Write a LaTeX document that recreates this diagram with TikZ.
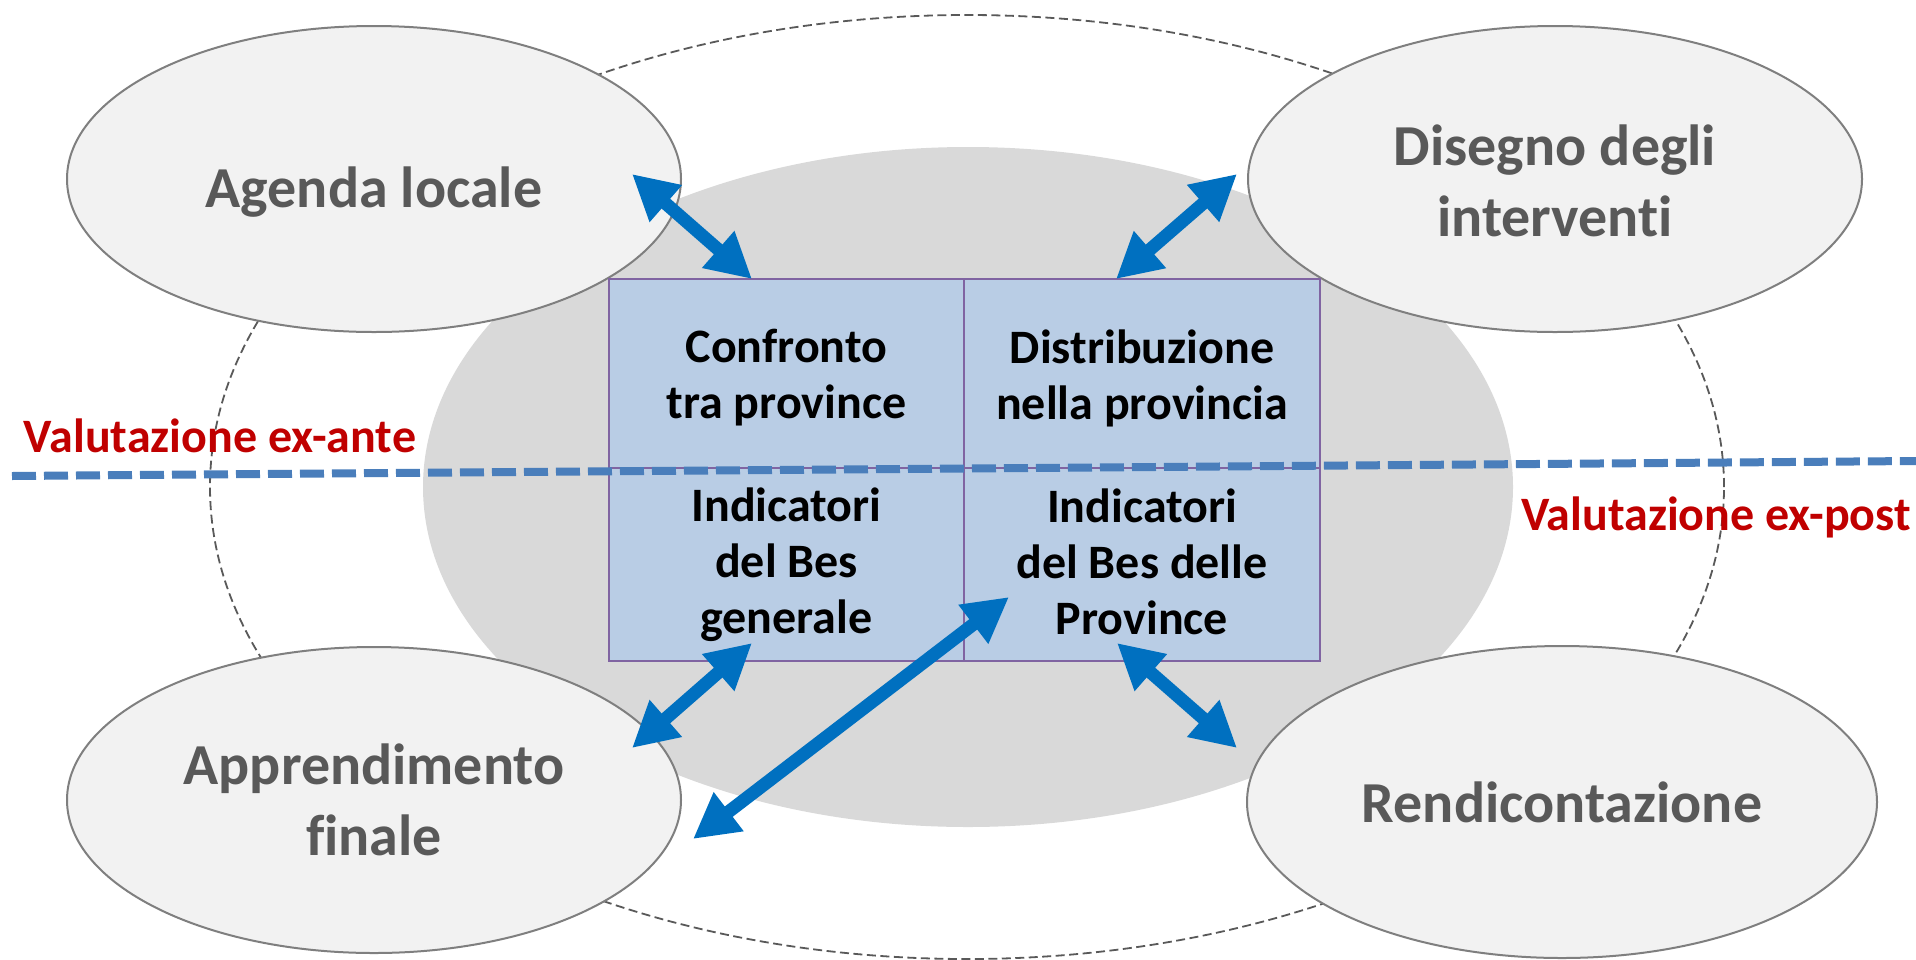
\documentclass[tikz,border=0pt]{standalone}
\usepackage{fontspec}
\setmainfont{Carlito}[Ligatures=NoCommon]
\usetikzlibrary{shapes.geometric,arrows.meta}
\definecolor{ellfill}{HTML}{F2F2F2}
\definecolor{ellline}{HTML}{7F7F7F}
\definecolor{corefill}{HTML}{D9D9D9}
\definecolor{cellfill}{HTML}{B9CDE5}
\definecolor{cellline}{HTML}{8064A2}
\definecolor{elltext}{HTML}{595959}
\definecolor{labred}{HTML}{C00000}
\definecolor{arrblue}{HTML}{0070C0}
\definecolor{lineblue}{HTML}{4A7EBB}
\definecolor{outerline}{HTML}{595959}
\tikzset{
  outerell/.style={ellipse, draw=outerline, line width=1.8pt, dash pattern=on 9pt off 4.5pt, minimum width=1514pt, minimum height=944pt, inner sep=0pt},
  coreell/.style={ellipse, fill=corefill, minimum width=1090pt, minimum height=680pt, inner sep=0pt},
  phaseell/.style={ellipse, fill=ellfill, draw=ellline, line width=2pt, minimum width=614pt, minimum height=306pt, inner sep=0pt},
  phasetext/.style={inner sep=0pt, align=center, text=elltext, font=\fontsize{58}{71}\selectfont\bfseries},
  cellbox/.style={rectangle, fill=cellfill, draw=cellline, line width=2.5pt, inner sep=0pt},
  celltext/.style={inner sep=0pt, align=center, font=\fontsize{48}{56}\selectfont\bfseries},
  phaselabel/.style={text=labred, font=\fontsize{48}{56}\selectfont\bfseries, anchor=base, inner sep=0pt},
  linkarrow/.style={draw=arrblue, line width=13pt, {Triangle[length=45pt,width=46pt]}-{Triangle[length=45pt,width=46pt]}},
  divider/.style={draw=lineblue, line width=8pt, dash pattern=on 24pt off 8pt}
}
\begin{document}
\begin{tikzpicture}[x=1pt,y=-1pt]
\useasboundingbox (0,0) rectangle (1916,959);
% background frames
\node[outerell] (outer) at (967,487) {};
\node[coreell] (core) at (968,487) {};
% phases
\node[phaseell] (agenda) at (374,179) {};
\node[phasetext] (agendat) at (374,192) {Agenda locale};
\node[phaseell] (disegno) at (1555,179) {};
\node[phasetext] (disegnot) at (1555,181) {Disegno degli\\interventi};
\node[phaseell] (appr) at (374,800) {};
\node[phasetext] (apprt) at (374,800) {Apprendimento\\finale};
\node[phaseell, minimum width=630pt, minimum height=312pt] (rend) at (1562,802) {};
\node[phasetext] (rendt) at (1562,802) {Rendicontazione};
% table
\node[cellbox, minimum width=355pt, minimum height=189pt] (c1) at (786.5,373.5) {};
\node[cellbox, minimum width=356pt, minimum height=189pt] (c2) at (1142,373.5) {};
\node[cellbox, minimum width=355pt, minimum height=193pt] (c3) at (786.5,564.5) {};
\node[cellbox, minimum width=356pt, minimum height=193pt] (c4) at (1142,564.5) {};
\node[celltext] (c1t) at (786.5,378) {Confronto\\tra province};
\node[celltext] (c2t) at (1142,378) {Distribuzione\\nella provincia};
\node[celltext] (c3t) at (786.5,565) {Indicatori\\del Bes\\generale};
\node[celltext] (c4t) at (1142,562) {Indicatori\\del Bes delle\\Province};
% divider
\coordinate (dl) at (12,476);
\coordinate (dr) at (1916,461);
\draw[divider] (dl) -- (dr);
% labels
\node[phaselabel] (exante) at (220,452) {Valutazione ex-ante};
\node[phaselabel] (expost) at (1716,530) {Valutazione ex-post};
% arrow ends
\coordinate (a1s) at (632,174);
\coordinate (a1e) at (752,279);
\coordinate (a2s) at (1237,174);
\coordinate (a2e) at (1116,279);
\coordinate (a3s) at (752,643);
\coordinate (a3e) at (632,748);
\coordinate (a4s) at (1009,597);
\coordinate (a4e) at (693,839);
\coordinate (a5s) at (1117,643);
\coordinate (a5e) at (1237,748);
\draw[linkarrow] (a1s) -- (a1e);
\draw[linkarrow] (a2s) -- (a2e);
\draw[linkarrow] (a3s) -- (a3e);
\draw[linkarrow] (a4s) -- (a4e);
\draw[linkarrow] (a5s) -- (a5e);
\end{tikzpicture}
\end{document}
